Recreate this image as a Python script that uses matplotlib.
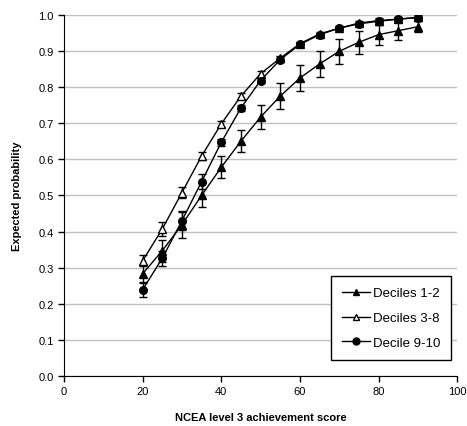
import numpy as np
import matplotlib.pyplot as plt
from matplotlib.lines import Line2D

plt.rcParams['font.family'] = ['Liberation Sans', 'DejaVu Sans']

score = [20, 25, 30, 35, 40, 45, 50, 55, 60, 65, 70, 75, 80, 85, 90]

dec12 = [0.283, 0.347, 0.419, 0.500, 0.578, 0.650, 0.717, 0.775, 0.825, 0.864, 0.899, 0.924, 0.945, 0.956, 0.967]
dec12_err = [0.025, 0.03, 0.037, 0.033, 0.03, 0.03, 0.032, 0.036, 0.036, 0.036, 0.034, 0.032, 0.028, 0.027, 0.015]

dec38 = [0.319, 0.407, 0.508, 0.609, 0.698, 0.775, 0.837, 0.880, 0.920, 0.947, 0.963, 0.977, 0.984, 0.988, 0.993]
dec38_err = [0.015, 0.02, 0.015, 0.01, 0.008, 0.008, 0.008, 0.007, 0.006, 0.005, 0.005, 0.005, 0.006, 0.007, 0.006]

dec910 = [0.239, 0.326, 0.430, 0.538, 0.647, 0.742, 0.818, 0.876, 0.918, 0.945, 0.963, 0.975, 0.982, 0.988, 0.992]
dec910_err = [0.02, 0.02, 0.025, 0.02, 0.01, 0.008, 0.008, 0.007, 0.006, 0.005, 0.005, 0.006, 0.007, 0.007, 0.006]

labels = ['Deciles 1-2', 'Deciles 3-8', 'Decile 9-10']

fig = plt.figure(figsize=(4.67, 4.27), dpi=100)
ax = fig.add_axes([0.137, 0.117, 0.842, 0.846])

kw = dict(color='black', lw=1, capsize=3, elinewidth=1, capthick=1, markersize=5.5)
ax.errorbar(score, dec12, yerr=dec12_err, marker='^', mfc='black', **kw)
ax.errorbar(score, dec38, yerr=dec38_err, marker='^', mfc='white', **kw)
ax.errorbar(score, dec910, yerr=dec910_err, marker='o', mfc='black', **kw)

ax.set_xlim(0, 100)
ax.set_ylim(0, 1.0)
ax.set_xticks(np.arange(0, 101, 20))
ax.set_yticks(np.arange(0, 1.01, 0.1))
ax.set_yticklabels(['%.1f' % v for v in np.arange(0, 1.01, 0.1)])
ax.yaxis.grid(True, color='#c0c0c0', lw=1)
ax.set_axisbelow(True)
for s in ['top', 'right']:
    ax.spines[s].set_visible(False)
ax.tick_params(direction='out', labelsize=8, length=4, width=1)
ax.set_xlabel('NCEA level 3 achievement score', fontsize=8, fontweight='bold', labelpad=11)
ax.set_ylabel('Expected probability', fontsize=8, fontweight='bold', labelpad=12)

handles = [Line2D([], [], color='black', lw=1, marker='^', mfc='black', markersize=5),
           Line2D([], [], color='black', lw=1, marker='^', mfc='white', markersize=5),
           Line2D([], [], color='black', lw=1, marker='o', mfc='black', markersize=5)]
leg = ax.legend(handles, labels, loc='lower right', bbox_to_anchor=(0.985, 0.044), fontsize=9.5,
                fancybox=False, edgecolor='black', framealpha=1, handlelength=2.1,
                borderpad=0.85, labelspacing=0.95, handletextpad=0.2, borderaxespad=0)
leg.get_frame().set_linewidth(1)

fig.savefig('out.png', dpi=100)
